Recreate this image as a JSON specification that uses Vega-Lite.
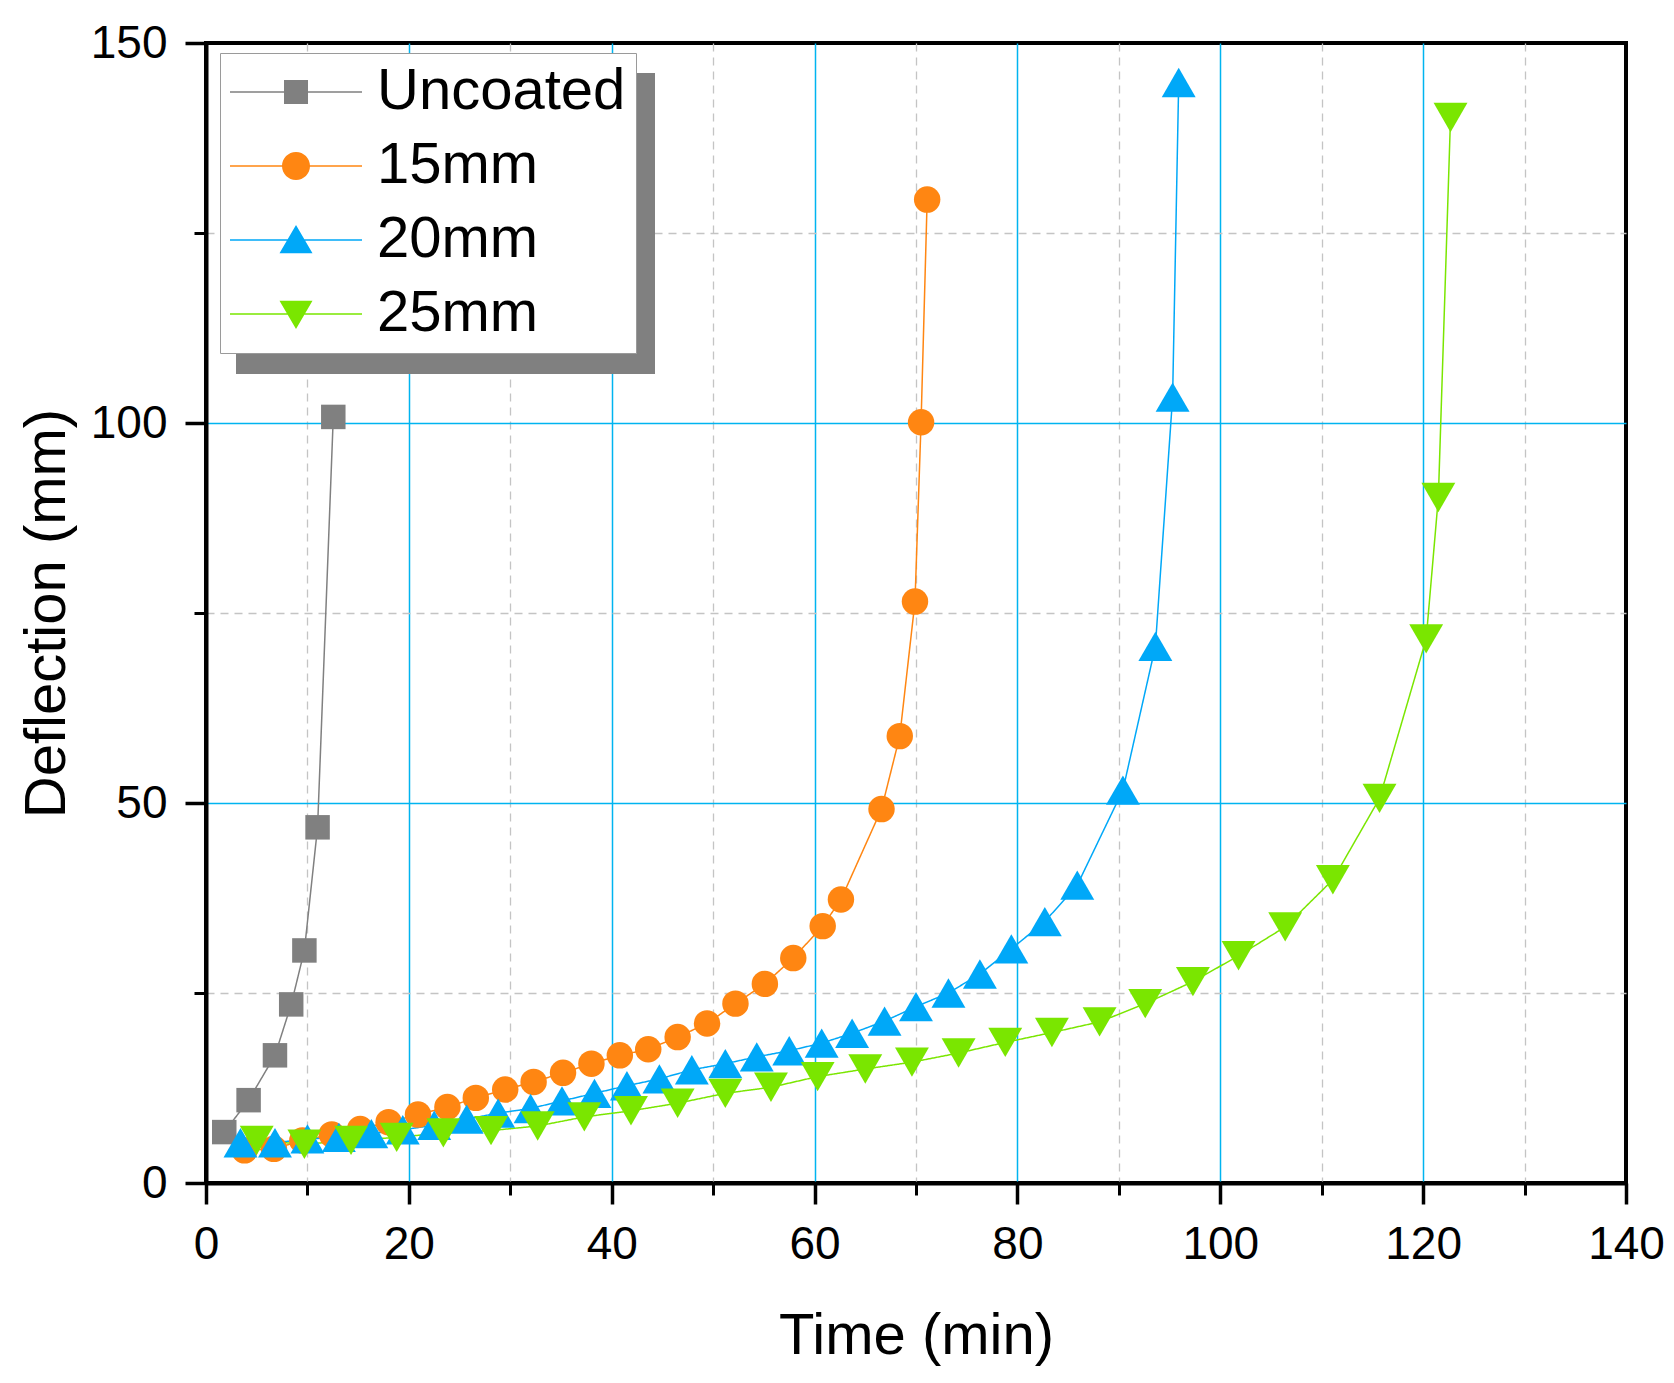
{
  "$schema": "https://vega.github.io/schema/vega-lite/v6.json",
  "autosize": {"type": "none"},
  "width": 1420,
  "height": 1140,
  "padding": {"left": 206, "top": 43, "right": 48, "bottom": 200},
  "background": "white",
  "data": {
    "values": [
      {"series": "Uncoated", "t": 1.8, "d": 6.7},
      {"series": "Uncoated", "t": 4.2, "d": 10.9},
      {"series": "Uncoated", "t": 6.8, "d": 16.8},
      {"series": "Uncoated", "t": 8.4, "d": 23.5},
      {"series": "Uncoated", "t": 9.7, "d": 30.6},
      {"series": "Uncoated", "t": 11.0, "d": 46.8},
      {"series": "Uncoated", "t": 12.55, "d": 100.8},
      {"series": "15mm", "t": 3.8, "d": 4.3},
      {"series": "15mm", "t": 6.7, "d": 4.5},
      {"series": "15mm", "t": 9.5, "d": 5.6},
      {"series": "15mm", "t": 12.4, "d": 6.4},
      {"series": "15mm", "t": 15.2, "d": 7.1},
      {"series": "15mm", "t": 18.0, "d": 8.0},
      {"series": "15mm", "t": 20.9, "d": 9.0},
      {"series": "15mm", "t": 23.8, "d": 10.0},
      {"series": "15mm", "t": 26.6, "d": 11.2},
      {"series": "15mm", "t": 29.5, "d": 12.3},
      {"series": "15mm", "t": 32.3, "d": 13.3},
      {"series": "15mm", "t": 35.2, "d": 14.5},
      {"series": "15mm", "t": 38.0, "d": 15.7},
      {"series": "15mm", "t": 40.8, "d": 16.8},
      {"series": "15mm", "t": 43.6, "d": 17.6},
      {"series": "15mm", "t": 46.5, "d": 19.2},
      {"series": "15mm", "t": 49.4, "d": 21.0},
      {"series": "15mm", "t": 52.2, "d": 23.6},
      {"series": "15mm", "t": 55.1, "d": 26.2},
      {"series": "15mm", "t": 57.9, "d": 29.6},
      {"series": "15mm", "t": 60.8, "d": 33.8},
      {"series": "15mm", "t": 62.6, "d": 37.3},
      {"series": "15mm", "t": 66.6, "d": 49.2},
      {"series": "15mm", "t": 68.4, "d": 58.8},
      {"series": "15mm", "t": 69.9, "d": 76.5},
      {"series": "15mm", "t": 70.5, "d": 100.1},
      {"series": "15mm", "t": 71.1, "d": 129.4},
      {"series": "20mm", "t": 3.4, "d": 5.3},
      {"series": "20mm", "t": 6.8, "d": 5.3},
      {"series": "20mm", "t": 10.0, "d": 5.8},
      {"series": "20mm", "t": 13.1, "d": 6.0},
      {"series": "20mm", "t": 16.3, "d": 6.5},
      {"series": "20mm", "t": 19.4, "d": 7.0},
      {"series": "20mm", "t": 22.5, "d": 7.6},
      {"series": "20mm", "t": 25.7, "d": 8.4},
      {"series": "20mm", "t": 28.8, "d": 9.2},
      {"series": "20mm", "t": 32.0, "d": 9.8},
      {"series": "20mm", "t": 35.1, "d": 10.8},
      {"series": "20mm", "t": 38.3, "d": 11.8},
      {"series": "20mm", "t": 41.5, "d": 12.8},
      {"series": "20mm", "t": 44.7, "d": 13.7},
      {"series": "20mm", "t": 47.9, "d": 14.9},
      {"series": "20mm", "t": 51.2, "d": 15.7},
      {"series": "20mm", "t": 54.3, "d": 16.6},
      {"series": "20mm", "t": 57.5, "d": 17.4},
      {"series": "20mm", "t": 60.7, "d": 18.4},
      {"series": "20mm", "t": 63.7, "d": 19.7},
      {"series": "20mm", "t": 66.9, "d": 21.3},
      {"series": "20mm", "t": 70.0, "d": 23.2},
      {"series": "20mm", "t": 73.2, "d": 25.0},
      {"series": "20mm", "t": 76.3, "d": 27.5},
      {"series": "20mm", "t": 79.4, "d": 30.8},
      {"series": "20mm", "t": 82.7, "d": 34.4},
      {"series": "20mm", "t": 85.9, "d": 39.2},
      {"series": "20mm", "t": 90.4, "d": 51.7},
      {"series": "20mm", "t": 93.6, "d": 70.6},
      {"series": "20mm", "t": 95.3, "d": 103.4},
      {"series": "20mm", "t": 95.9, "d": 144.8},
      {"series": "25mm", "t": 5.0, "d": 5.6},
      {"series": "25mm", "t": 9.7, "d": 5.1},
      {"series": "25mm", "t": 14.3, "d": 5.6},
      {"series": "25mm", "t": 18.8, "d": 6.0},
      {"series": "25mm", "t": 23.4, "d": 6.6},
      {"series": "25mm", "t": 28.1, "d": 6.9},
      {"series": "25mm", "t": 32.7, "d": 7.5},
      {"series": "25mm", "t": 37.3, "d": 8.7},
      {"series": "25mm", "t": 41.9, "d": 9.5},
      {"series": "25mm", "t": 46.5, "d": 10.5},
      {"series": "25mm", "t": 51.2, "d": 11.8},
      {"series": "25mm", "t": 55.7, "d": 12.6},
      {"series": "25mm", "t": 60.3, "d": 14.0},
      {"series": "25mm", "t": 65.0, "d": 15.0},
      {"series": "25mm", "t": 69.6, "d": 15.9},
      {"series": "25mm", "t": 74.2, "d": 17.1},
      {"series": "25mm", "t": 78.8, "d": 18.5},
      {"series": "25mm", "t": 83.4, "d": 19.8},
      {"series": "25mm", "t": 88.1, "d": 21.2},
      {"series": "25mm", "t": 92.6, "d": 23.6},
      {"series": "25mm", "t": 97.3, "d": 26.5},
      {"series": "25mm", "t": 101.8, "d": 29.9},
      {"series": "25mm", "t": 106.4, "d": 33.7},
      {"series": "25mm", "t": 111.1, "d": 39.9},
      {"series": "25mm", "t": 115.7, "d": 50.6},
      {"series": "25mm", "t": 120.3, "d": 71.6},
      {"series": "25mm", "t": 121.5, "d": 90.2},
      {"series": "25mm", "t": 122.7, "d": 140.2}
    ]
  },
  "resolve": {"axis": {"x": "independent", "y": "independent"}},
  "layer": [
    {
      "mark": {"type": "line", "strokeWidth": 1.5},
      "encoding": {
        "x": {
          "field": "t", "type": "quantitative",
          "scale": {"domain": [0, 140], "nice": false, "zero": false},
          "axis": {
            "orient": "bottom", "title": null, "values": [10, 30, 50, 70, 90, 110, 130],
            "labels": false, "domain": false, "tickSize": 12, "tickWidth": 3, "tickColor": "black",
            "grid": true, "gridColor": "#c4c4c4", "gridDash": [8, 6], "gridWidth": 1.3
          }
        },
        "y": {
          "field": "d", "type": "quantitative",
          "scale": {"domain": [0, 150], "nice": false, "zero": false},
          "axis": {
            "orient": "left", "title": null, "values": [25, 75, 125],
            "labels": false, "domain": false, "tickSize": 12, "tickWidth": 3, "tickColor": "black",
            "grid": true, "gridColor": "#c4c4c4", "gridDash": [8, 6], "gridWidth": 1.3
          }
        },
        "color": {
          "field": "series", "type": "nominal",
          "scale": {
            "domain": ["Uncoated", "15mm", "20mm", "25mm"],
            "range": ["#808080", "#ff8612", "#00a8f8", "#7ae600"]
          },
          "legend": {
            "orient": "none", "legendX": 14, "legendY": 10, "zindex": 2,
            "title": null, "padding": 10, "rowPadding": 16, "labelOffset": 89,
            "labelFontSize": 58, "labelFont": "Liberation Sans", "labelColor": "black", "labelLimit": 0,
            "symbolSize": 3364, "symbolOpacity": 1, "symbolStrokeWidth": 0,
            "fillColor": "white", "strokeColor": "#9a9a9a",
            "encode": {"symbols": {"update": {"size": {"value": 3364}}}}
          }
        },
        "strokeDash": {
          "field": "series", "type": "nominal",
          "scale": {
            "domain": ["Uncoated", "15mm", "20mm", "25mm"],
            "range": [[1, 0], [1, 0], [1, 0], [1, 0]]
          },
          "legend": {
            "orient": "top-left", "offset": 30, "zindex": 1,
            "title": null, "padding": 10, "rowPadding": 14.7, "labelOffset": 339,
            "labelFontSize": 58, "labelFont": "Liberation Sans", "labelExpr": "''", "labelLimit": 0,
            "symbolSize": 3364, "symbolType": "M-1,-1H12.8V1H-1Z", "symbolOpacity": 0,
            "fillColor": "#808080", "strokeColor": null
          }
        }
      }
    },
    {
      "mark": {"type": "point", "filled": true, "opacity": 0},
      "encoding": {
        "x": {"field": "t", "type": "quantitative", "axis": null},
        "y": {"field": "d", "type": "quantitative", "axis": null},
        "color": {"field": "series", "type": "nominal"},
        "shape": {
          "field": "series", "type": "nominal",
          "scale": {
            "domain": ["Uncoated", "15mm", "20mm", "25mm"],
            "range": [
              "M-1,-0.028H3.552V0.028H-1ZM0.862,-0.414H1.69V0.414H0.862Z",
              "M-1,-0.028H3.552V0.028H-1ZM0.793,0C0.793,-0.2668,1.0092,-0.483,1.276,-0.483C1.5428,-0.483,1.759,-0.2668,1.759,0C1.759,0.2668,1.5428,0.483,1.276,0.483C1.0092,0.483,0.793,0.2668,0.793,0Z",
              "M-1,-0.028H3.552V0.028H-1ZM1.276,-0.52L1.845,0.46H0.707Z",
              "M-1,-0.028H3.552V0.028H-1ZM1.276,0.52L0.707,-0.46H1.845Z"
            ]
          }
        }
      }
    },
    {
      "mark": {"type": "point", "filled": true, "opacity": 1},
      "encoding": {
        "x": {
          "field": "t", "type": "quantitative",
          "axis": {
            "orient": "bottom", "title": "Time (min)", "values": [0, 20, 40, 60, 80, 100, 120, 140],
            "domain": true, "domainColor": "black", "domainWidth": 4,
            "tickSize": 21, "tickWidth": 3.5, "tickColor": "black",
            "labelFontSize": 46, "labelFont": "Liberation Sans", "labelColor": "black",
            "labelPadding": 18, "labelFlush": false, "labelOverlap": false,
            "grid": true, "gridColor": "#00b4f0", "gridWidth": 1.5,
            "gridOpacity": {"condition": {"test": "datum.value === 0 || datum.value === 140", "value": 0}, "value": 1},
            "titleFontSize": 58, "titleFont": "Liberation Sans", "titleFontWeight": "normal", "titleColor": "black",
            "titleX": 710, "titleY": 170, "titleBaseline": "alphabetic", "titleAlign": "center"
          }
        },
        "y": {
          "field": "d", "type": "quantitative",
          "axis": {
            "orient": "left", "title": "Deflection (mm)", "values": [0, 50, 100, 150],
            "domain": true, "domainColor": "black", "domainWidth": 4,
            "tickSize": 21, "tickWidth": 3.5, "tickColor": "black",
            "labelFontSize": 46, "labelFont": "Liberation Sans", "labelColor": "black",
            "labelPadding": 18, "labelFlush": false, "labelOverlap": false,
            "grid": true, "gridColor": "#00b4f0", "gridWidth": 1.5,
            "gridOpacity": {"condition": {"test": "datum.value === 0 || datum.value === 150", "value": 0}, "value": 1},
            "titleFontSize": 58, "titleFont": "Liberation Sans", "titleFontWeight": "normal", "titleColor": "black",
            "titleAngle": -90, "titleX": -142, "titleY": 570, "titleBaseline": "alphabetic", "titleAlign": "center"
          }
        },
        "color": {"field": "series", "type": "nominal"},
        "shape": {
          "condition": [
            {"test": "datum.series === 'Uncoated'", "value": "square"},
            {"test": "datum.series === '15mm'", "value": "circle"},
            {"test": "datum.series === '20mm'", "value": "triangle-up"}
          ],
          "value": "triangle-down"
        },
        "size": {
          "condition": [
            {"test": "datum.series === 'Uncoated'", "value": 600},
            {"test": "datum.series === '15mm'", "value": 700}
          ],
          "value": 1150
        }
      }
    }
  ],
  "config": {
    "font": "Liberation Sans",
    "view": {"stroke": "black", "strokeWidth": 4}
  }
}
